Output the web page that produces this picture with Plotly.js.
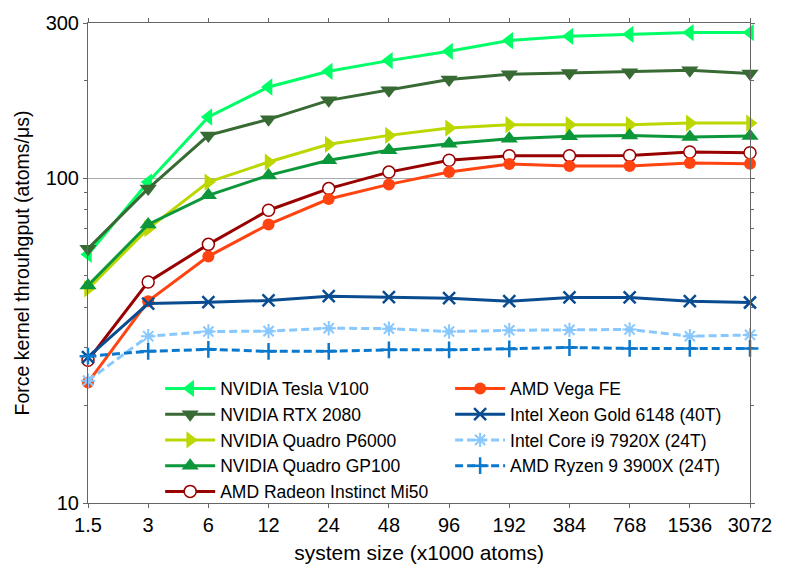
<!DOCTYPE html>
<html>
<head>
<meta charset="utf-8">
<script src="https://cdn.plot.ly/plotly-3.0.1.min.js"></script>
<style>
  html, body { margin: 0; padding: 0; background: #fff; }
  #chart { width: 789px; height: 571px; }
</style>
</head>
<body>
<div id="chart"></div>
<script>
// system sizes (x1000 atoms)
var sizes = ["1.5", "3", "6", "12", "24", "48", "96", "192", "384", "768", "1536", "3072"];

// force kernel throughput (atoms/us)
var teslaV100   = [58.2, 97.2, 154.1, 190.6, 213.0, 229.8, 245.5, 264.8, 273.0, 276.9, 280.3, 280.3];
var rtx2080     = [60.6, 92.8, 135.3, 151.6, 173.4, 186.2, 200.9, 208.5, 210.5, 211.5, 214.5, 209.6];
var quadroP6000 = [45.6, 69.9, 97.2, 112.0, 127.0, 135.3, 142.5, 146.0, 146.0, 146.0, 147.6, 147.6];
var quadroGP100 = [46.7, 72.0, 88.5, 101.9, 113.4, 121.7, 127.6, 132.2, 134.4, 135.3, 133.7, 134.7];
var radeonMi50  = [27.5, 47.9, 62.5, 79.6, 92.8, 104.3, 113.4, 117.2, 117.2, 117.4, 120.2, 119.7];
var vegaFE      = [23.5, 41.8, 57.4, 72.0, 86.2, 95.6, 104.3, 110.4, 108.9, 108.9, 111.2, 110.7];
var xeonGold    = [28.1, 41.1, 41.5, 42.0, 43.3, 43.0, 42.7, 41.8, 42.9, 42.9, 41.8, 41.4];
var corei9      = [23.8, 32.6, 33.7, 33.8, 34.5, 34.4, 33.7, 34.0, 34.1, 34.2, 32.6, 32.9];
var ryzen9      = [28.3, 29.3, 29.7, 29.3, 29.3, 29.6, 29.6, 29.8, 30.1, 29.9, 29.9, 29.9];

var yTicks = [10, 100, 300];
var yMinor = [20, 30, 40, 50, 60, 70, 80, 90, 200];

function series(name, values, color, symbol, size, opts) {
    opts = opts || {};
    return {
        x: sizes,
        y: values,
        name: name,
        type: 'scatter',
        mode: 'lines+markers',
        cliponaxis: false,
        legend: opts.legend || 'legend',
        line: { color: color, width: 3, dash: opts.dash || 'solid' },
        marker: {
            symbol: symbol,
            size: size,
            color: opts.fill || color,
            line: { color: color, width: opts.mlw || 0 }
        }
    };
}

var data = [
    series("NVIDIA Tesla V100", teslaV100, "#00ff66", "triangle-left", 15),
    series("NVIDIA RTX 2080", rtx2080, "#386a34", "triangle-down", 15),
    series("NVIDIA Quadro P6000", quadroP6000, "#bcd600", "triangle-right", 15),
    series("NVIDIA Quadro GP100", quadroGP100, "#0b973a", "triangle-up", 15),
    series("AMD Radeon Instinct Mi50", radeonMi50, "#990000", "circle", 12, { fill: "#ffffff", mlw: 1.5 }),
    series("AMD Vega FE", vegaFE, "#ff4411", "circle", 12, { legend: 'legend2' }),
    series("Intel Xeon Gold 6148 (40T)", xeonGold, "#0a4c90", "x-thin", 12, { legend: 'legend2', mlw: 2.5 }),
    series("Intel Core i9 7920X (24T)", corei9, "#88c8ff", "asterisk", 12, { legend: 'legend2', mlw: 2, dash: '8px,4px' }),
    series("AMD Ryzen 9 3900X (24T)", ryzen9, "#0a78cc", "cross-thin", 12, { legend: 'legend2', mlw: 2.5, dash: '8px,4px' })
];

var legendFont = { family: "Liberation Sans, Arial, sans-serif", size: 17.5, color: "#000" };

var layout = {
    width: 789,
    height: 571,
    margin: { l: 88, r: 39, t: 23, b: 68 },
    paper_bgcolor: "#fff",
    plot_bgcolor: "#fff",
    font: { family: "Liberation Sans, Arial, sans-serif", size: 19, color: "#000" },
    showlegend: true,
    xaxis: {
        type: 'category',
        range: [0, 11],
        title: { text: "system size (x1000 atoms)", font: { size: 21 }, standoff: 10 },
        showline: true,
        linecolor: "#666",
        linewidth: 1,
        mirror: 'ticks',
        ticks: 'outside',
        ticklen: 4,
        tickcolor: "#666",
        showgrid: false,
        zeroline: false,
        tickfont: { size: 20 }
    },
    yaxis: {
        type: 'log',
        range: [1, Math.log10(300)],
        title: { text: "Force kernel throuhgput (atoms/μs)", font: { size: 19.5 }, standoff: 10 },
        tickmode: 'array',
        tickvals: yTicks,
        ticktext: yTicks.map(String),
        showline: true,
        linecolor: "#666",
        linewidth: 1,
        mirror: 'ticks',
        ticks: 'outside',
        ticklen: 4,
        tickcolor: "#666",
        showgrid: true,
        gridcolor: "#aaa",
        gridwidth: 1,
        zeroline: false,
        tickfont: { size: 20 },
        minor: {
            tickmode: 'array',
            tickvals: yMinor,
            ticks: 'outside',
            ticklen: 3,
            tickcolor: "#666",
            showgrid: false
        }
    },
    legend: {
        x: 0.109, y: 0.276,
        xanchor: 'left', yanchor: 'top',
        itemwidth: 50,
        bgcolor: 'rgba(0,0,0,0)',
        font: legendFont,
        tracegroupgap: 0
    },
    legend2: {
        x: 0.547, y: 0.276,
        xanchor: 'left', yanchor: 'top',
        itemwidth: 50,
        bgcolor: 'rgba(0,0,0,0)',
        font: legendFont,
        tracegroupgap: 0
    }
};

Plotly.newPlot('chart', data, layout, { displayModeBar: false, staticPlot: true });
</script>
</body>
</html>
